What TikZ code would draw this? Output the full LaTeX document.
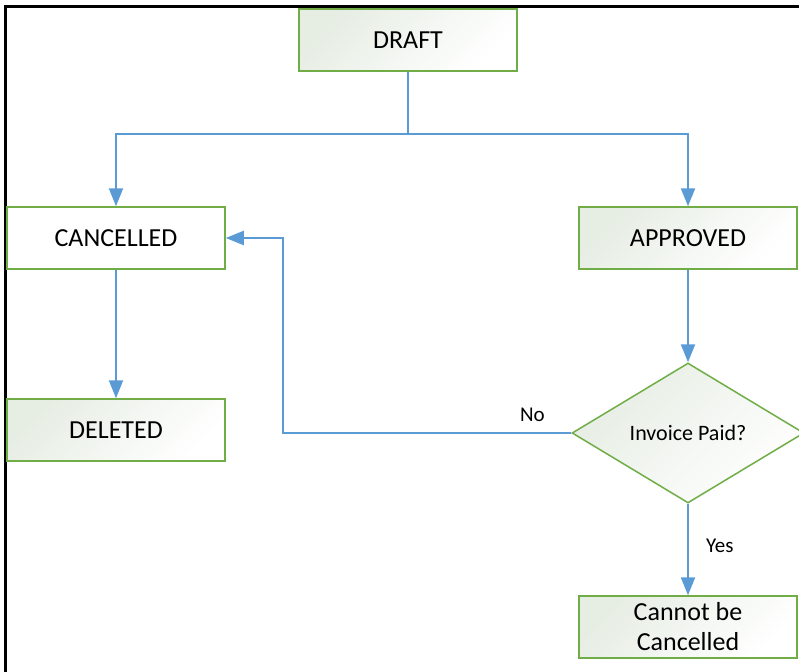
\documentclass[tikz,border=0pt]{standalone}
\usepackage{fontspec}
\setmainfont{Carlito}
\usepackage{tikz}
\usetikzlibrary{shapes.geometric,arrows.meta}
\definecolor{grn}{HTML}{70AD47}
\definecolor{blu}{HTML}{5B9BD5}
\definecolor{pale}{HTML}{E6EDE3}

\tikzset{
  statebox/.style={draw=grn, line width=1.5pt, top color=pale, bottom color=white,
    shading angle=45, minimum width=218pt, minimum height=62pt, inner sep=0pt,
    align=center, font=\fontsize{26}{30}\selectfont},
  plainbox/.style={statebox, top color=white, bottom color=white},
  decision/.style={diamond, draw=grn, line width=1.5pt, top color=pale, bottom color=white,
    shading angle=45, minimum width=232pt, minimum height=140pt, aspect=1.66,
    inner sep=0pt, font=\fontsize{22}{26}\selectfont},
  flow/.style={draw=blu, line width=2.2pt, -{Triangle[width=14pt,length=18pt]}},
  lbl/.style={font=\fontsize{21}{24}\selectfont, inner sep=3pt}
}

\begin{document}
\begin{tikzpicture}[x=1pt, y=-1pt]
    \useasboundingbox (0,0) rectangle (799,671);
    \clip (0,0) rectangle (799,671);
    % frame
    \draw[line width=3pt] (5,680) -- (5,6.5) -- (810,6.5);

    \node[statebox] (draft) at (408,40) {DRAFT};
    \node[plainbox] (cancelled) at (116,238) {CANCELLED};
    \node[statebox] (approved) at (688,238) {APPROVED};
    \node[statebox] (deleted) at (116,430) {DELETED};
    \node[decision] (paid) at (688,433) {Invoice Paid?};
    \node[statebox] (cannot) at (688,627) {Cannot be\\Cancelled};

    \draw[flow] (draft.south) -- ++(0,62) -| (cancelled.north);
    \draw[flow] (draft.south) -- ++(0,62) -| (approved.north);
    \draw[flow] (cancelled) -- (deleted);
    \draw[flow] (approved) -- (paid.north);
    \draw[flow] (paid.west) -- node[lbl, above=7pt, pos=0.135] (no) {No}
        ++(-288,0) |- (cancelled.east);
    \draw[flow] (paid.south) -- node[lbl, right=14pt, pos=0.46] (yes) {Yes} (cannot.north);
\end{tikzpicture}
\end{document}
